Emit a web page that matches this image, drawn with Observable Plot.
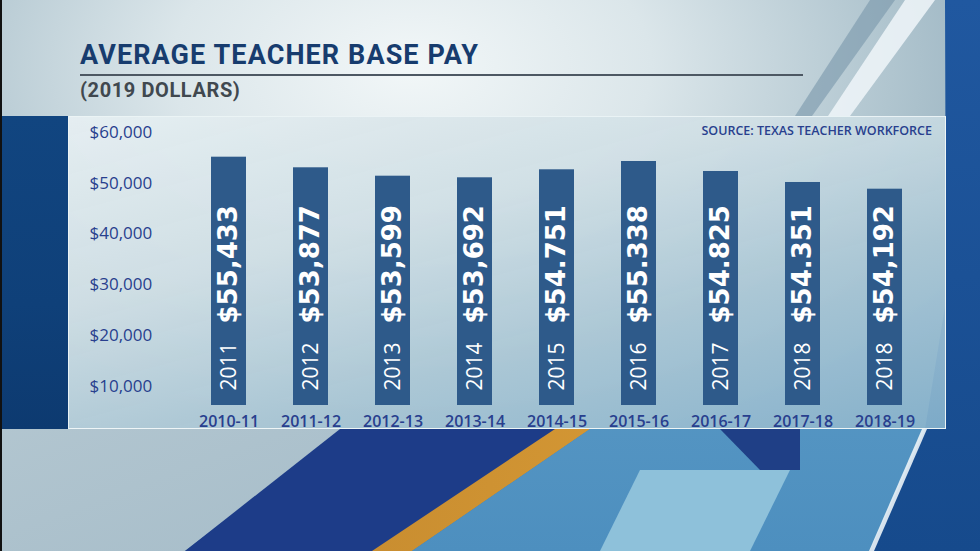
<!DOCTYPE html>
<html>
<head>
<meta charset="utf-8">
<script src="https://cdn.jsdelivr.net/npm/d3@7"></script>
<script src="https://cdn.jsdelivr.net/npm/@observablehq/plot@0.6"></script>
<style>
  html, body { margin: 0; padding: 0; background: #8fa9b8; }
  #stage { position: relative; width: 980px; height: 551px; overflow: hidden;
    background: radial-gradient(ellipse 70% 75% at 42% 12%, #f2f7f8 0%, #dbe6ea 35%, #b0c5cf 70%, #8ba7b8 100%); }
  .poly { position: absolute; left: 0; top: 0; width: 980px; height: 551px; }
  #title { position: absolute; left: 80px; top: 42px; font: 700 27px/27px Roboto, sans-serif; color: #173c6e; letter-spacing: 1.1px; white-space: nowrap; }
  #rule { position: absolute; left: 80px; top: 74px; width: 723px; height: 2px; background: #4d5863; }
  #subtitle { position: absolute; left: 80px; top: 80px; font: 700 20px/20px Roboto, sans-serif; color: #40484f; letter-spacing: 0.6px; white-space: nowrap; }
  #leftblock { position: absolute; left: 2px; top: 116px; width: 66px; height: 313px; background: linear-gradient(180deg, #114580 0%, #0f4079 60%, #0d3a70 100%); }
  #panel { position: absolute; left: 68px; top: 116px; width: 876px; height: 311px;
    border: 1.5px solid rgba(238,245,247,0.95);
    background: linear-gradient(165deg, rgba(230,239,242,0.96) 0%, rgba(208,223,229,0.94) 35%, rgba(172,200,214,0.92) 65%, rgba(133,178,205,0.92) 100%); }
  #source { position: absolute; right: 48px; top: 125px; font: 600 12.5px/12.5px "Open Sans", sans-serif; color: #283f8e; white-space: nowrap; letter-spacing: 0px; }
  #chart { position: absolute; left: 0; top: 0; }
</style>
</head>
<body>
<div id="stage">
  <!-- decorative background shapes -->
  <div class="poly" style="background: linear-gradient(180deg,#6f95ad,#3f78a8); clip-path: polygon(0 429px, 980px 429px, 980px 551px, 0 551px);"></div>
  <div class="poly" style="background: linear-gradient(160deg,#c4d3da,#9db6c4); clip-path: polygon(0 429px, 345px 429px, 185px 551px, 0 551px);"></div>
  <div class="poly" style="background: #1d3c88; clip-path: polygon(340px 429px, 560px 429px, 375px 551px, 185px 551px);"></div>
  <div class="poly" style="background: linear-gradient(90deg,#b9802a,#e3a43a); clip-path: polygon(555px 429px, 590px 429px, 412px 551px, 372px 551px);"></div>
  <div class="poly" style="background: linear-gradient(180deg,#6aa6cc,#4d8fbf); clip-path: polygon(590px 429px, 930px 429px, 870px 551px, 412px 551px);"></div>
  <div class="poly" style="background: #8ec1da; clip-path: polygon(640px 470px, 790px 470px, 750px 551px, 600px 551px);"></div>
  <div class="poly" style="background: #1f3f86; clip-path: polygon(720px 429px, 800px 429px, 800px 470px, 760px 470px);"></div>
  <div class="poly" style="background: linear-gradient(180deg,#2058a0,#164a8c); clip-path: polygon(945px 0, 980px 0, 980px 551px, 870px 551px, 925px 429px, 946px 300px);"></div>
  <div class="poly" style="background: rgba(240,246,249,0.85); clip-path: polygon(905px 0, 935px 0, 850px 116px, 828px 116px);"></div>
  <div class="poly" style="background: rgba(120,150,170,0.6); clip-path: polygon(870px 0, 895px 0, 812px 116px, 795px 116px);"></div>
  <div class="poly" style="background: rgba(235,243,247,0.9); clip-path: polygon(922px 429px, 927px 429px, 874px 551px, 869px 551px);"></div>
  <div class="poly" style="background: #111; clip-path: polygon(0 0, 2px 0, 2px 551px, 0 551px);"></div>

  <div id="title">AVERAGE TEACHER BASE PAY</div>
  <div id="rule"></div>
  <div id="subtitle">(2019 DOLLARS)</div>
  <div id="leftblock"></div>
  <div id="panel"></div>
  <div id="source">SOURCE: TEXAS TEACHER WORKFORCE</div>
  <div id="chart"></div>
</div>
<script>
// School years (x categories)
const seasons = ["2010-11", "2011-12", "2012-13", "2013-14", "2014-15", "2015-16", "2016-17", "2017-18", "2018-19"];
// Bar heights as drawn in the graphic, read against its y axis
const drawnPay = [55090, 53006, 51356, 51041, 52613, 54244, 52279, 50118, 48802];
// Printed value labels inside the bars (as written in the original)
const valueLabels = ["$55,433", "$53,877", "$53,599", "$53,692", "$54.751", "$55.338", "$54.825", "$54.351", "$54,192"];
// Printed year labels inside the bars
const yearLabels = ["2011", "2012", "2013", "2014", "2015", "2016", "2017", "2018", "2018"];
// Y axis ticks
const yTicks = [10000, 20000, 30000, 40000, 50000, 60000];
// Value at the bars' baseline (axis starts above zero in the graphic)
const yBase = 6300;
const yTop = 60000;

const data = seasons.map((s, i) => ({ season: s, pay: drawnPay[i], label: valueLabels[i], year: yearLabels[i] }));

const chart = Plot.plot({
  width: 980,
  height: 551,
  marginLeft: 89,
  marginBottom: 146,
  style: { background: "transparent", fontFamily: "'Open Sans', sans-serif", overflow: "visible" },
  x: { domain: seasons, range: [183, 929], paddingInner: 0.578, paddingOuter: 0.289, label: null },
  y: { domain: [yBase, yTop], range: [405, 131.7], label: null },
  marks: [
    Plot.barY(data, { x: "season", y1: yBase, y2: "pay", fill: "#2e5a8a" }),
    Plot.text(data, { x: "season", y: yBase, text: "year", rotate: -90, textAnchor: "start", dy: -15, fill: "white", fontSize: 21, fontWeight: 500 }),
    Plot.text(data, { x: "season", y: yBase, text: "label", rotate: -90, textAnchor: "start", dy: -82, fill: "white", fontSize: 26, fontWeight: 700, fontFamily: "'DejaVu Sans', sans-serif" }),
    Plot.axisY({ ticks: yTicks, tickFormat: d3.format("$,"), tickSize: 0, tickPadding: 0, textAnchor: "start", fontSize: 17, fontWeight: 500, fill: "#283f8e", label: null, letterSpacing: "0.1px" }),
    Plot.axisX({ tickSize: 0, tickPadding: 10, fontSize: 16, fontWeight: 600, fill: "#283f8e", label: null, letterSpacing: "-0.8px" })
  ]
});
document.getElementById("chart").appendChild(chart);
</script>
</body>
</html>
